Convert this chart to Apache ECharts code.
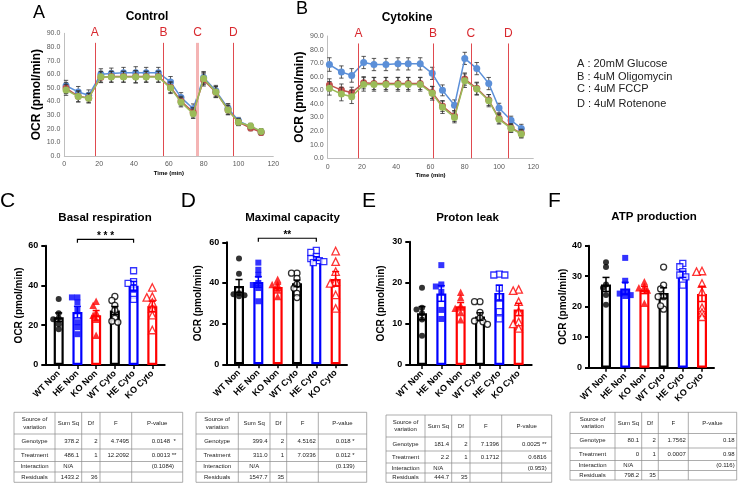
<!DOCTYPE html>
<html><head><meta charset="utf-8">
<script src="https://cdn.jsdelivr.net/npm/echarts/dist/echarts.min.js"></script>
<style>html,body{margin:0;padding:0;background:#fff}#c{width:740px;height:484px}</style>
</head><body><div id="c"></div>
<script>
// ---------------- DATA ----------------
const timeMin = [1,8,14,21,27,34,41,47,54,61,67,74,80,87,94,100,107,113];
const seriesNames = ['WT','HE','KO'];
const ctrlBlue  = [51.5,47,44.5,60,60.5,61,61,61,61,54.3,43,34.7,57.5,47.8,35,25.8,21.5,17.6];
const ctrlRed   = [49.8,43.8,42.6,57.8,58.3,58.3,58.3,58.3,58.3,50.5,40.3,32,55.8,46.8,33.8,24.8,20.5,17.3];
const ctrlGreen = [48.5,43.6,42.4,58.2,58,58,58,58,58,49.8,39.5,31,56.8,47,33.8,24.8,22,18];
const ctrlBlueErr  = [4,4,4,4,4,4,4.5,4,4,4,3.5,3.5,4.5,4,3.5,2.5,2,2];
const ctrlRedErr   = [4,4,3.5,4,4,4,4.5,4,4,4,3.5,3.5,4.5,4,3.5,2.5,2,2];
const ctrlGreenErr = [4,4,3.5,4,4,4,4.5,4,4,4,3.5,3.5,4.5,4,3.5,2.5,2,2];
const cytoBlue  = [69,63.5,61,70.5,69,69,69.5,69.5,69.5,62.5,50,39,73.5,66,55,37,28,22];
const cytoRed   = [54,50.2,48.3,55.6,55.1,55.1,55.1,55.1,55.1,48.5,38.5,31.1,58.3,51.5,42.9,29.4,22.5,18.4];
const cytoGreen = [51.5,47.3,45.3,54.4,54.4,54.4,54.4,54.4,54.4,47.8,37.5,30.1,57.1,51,42.4,28.7,22,17.9];
const cytoBlueErr  = [5,4.5,5,4.5,4.5,4.5,4.5,4.5,4.5,4.5,4,4,4.5,4.5,4.5,3.5,3,3];
const cytoRedErr   = [4.5,4.5,4,4.5,4.5,4.5,4.5,4.5,4.5,4.5,4,4,4.5,4.5,4,3.5,3,3];
const cytoGreenErr = [5,5,5,5,5,5,5,5,5,5,4.5,4,5,4.5,4.5,3.5,3,3];
const ctrlInjections = [17.5,57,76.5,97];
const cytoInjections = [18,61.5,83.5,105.5];
const injectionLabels = ['A','B','C','D'];
const injectionLegend = ['A : 20mM Glucose','B : 4uM Oligomycin','C : 4uM FCCP','D : 4uM Rotenone'];

const groupNames = ['WT Non','HE Non','KO Non','WT Cyto','HE Cyto','KO Cyto'];
const basalMean = [24,26.6,25,27.4,39.8,29.5];
const basalSem  = [2.2,2.9,2.4,2.0,2.2,2.6];
const basalPts  = [[33.2,26,23.5,23,20.5,18],[34,34,31.5,28,21.5,19,15.5],[32,30,26.5,25,23,15],[34.5,32.5,30,27.5,23.5,22,21.5],[47.4,41.9,41.1,38.5,35.2,33],[39,34.4,34,31.5,28.5,25.1,17.6]];
const maxMean = [38.5,40.5,38,39.8,52,42];
const maxSem  = [3.2,2.6,1.5,1.6,0.9,3.6];
const maxPts  = [[52,44.5,35,34.5,34,33.5],[50,46.5,44,40,39,37.5,31],[41.8,39.3,39.3,36.6,33.3],[44.8,44.8,42.3,39.3,37.4,34.9,32.8],[56,55,53,52,51,50.5,50],[55.7,50.5,45.6,40.7,39.8,34.1,27.5]];
const leakMean = [12.6,17.4,14.3,11.8,17.5,13.5];
const leakSem  = [1.6,1.9,0.9,0.9,1.9,1.5];
const leakPts  = [[18.8,13.9,13.5,12.6,11.1,7.1],[24.3,19.6,19.1,17.8,13.4,11.2],[17.7,16.4,14.5,13.8,12.8,11],[15.4,15.4,12.8,11.4,10.7,10.5,9.9],[22.1,21.9,21.9,18.7,16.6,13,11.2],[18.4,18.1,15.4,13,10.5,10,8.9]];
const atpMean = [27.3,26,25.5,24.5,30.6,24.2];
const atpSem  = [2.3,2,1.2,1.7,1,2.5];
const atpPts  = [[33,34.6,27.3,26.2,23.8,20.6],[36,28.5,24.7,24.3,23.8,23.5],[28.2,26.6,26.2,25.5,21.1],[33,27.1,25.8,23.3,23.3,19.2,20.3],[34.2,33.1,31.5,30.4,29.8,27.1],[31.7,31.5,27.6,24.9,19.7,18.1,16.7]];
const basalSig = [1,4,63.2,'* * *'];
const maxSig = [1,4,62,'**'];

const tableHeader = ['Source of\nvariation','Sum Sq','Df','F','P-value'];
const tableBasal = [['Genotype','378.2','2','4.7495','0.0148  *'],['Treatment','486.1','1','12.2092','0.0013 **'],['Interaction','N/A','','','(0.1084)'],['Residuals','1433.2','36','','']];
const tableMax = [['Genotype','399.4','2','4.5162','0.018 *'],['Treatment','311.0','1','7.0336','0.012 *'],['Interaction','N/A','','','(0.139)'],['Residuals','1547.7','35','','']];
const tableLeak = [['Genotype','181.4','2','7.1396','0.0025 **'],['Treatment','2.2','1','0.1712','0.6816'],['Interaction','N/A','','','(0.953)'],['Residuals','444.7','35','','']];
const tableAtp = [['Genotype','80.1','2','1.7562','0.18'],['Treatment','0','1','0.0007','0.98'],['Interaction','N/A','','','(0.116)'],['Residuals','798.2','35','','']];

// ---------------- BUILD ----------------
const FONT = "'Liberation Sans', Arial, sans-serif";
const grids=[], xAxes=[], yAxes=[], series=[], graphics=[];
const BLUE='#5B8FD8', RED='#C0504D', GREEN='#9BBB59';
const groupColors=['#000000','#0000ff','#ff0000','#000000','#0000ff','#ff0000'];
const groupSymbols=['circle','rect','triangle','circle','rect','triangle'];
const groupHollow=[false,false,false,true,true,true];

function txt(x,y,text,font,fill,align,valign){
  graphics.push({type:'text',x:x,y:y,silent:true,style:{text:text,font:font,fill:fill||'#000',textAlign:align||'center',textVerticalAlign:valign||'middle',align:align||'center',verticalAlign:valign||'middle'}});
}

function errRender(params, api){
  const x=api.value(0), y=api.value(1), e=api.value(2);
  const t=api.coord([x,y+e]), b=api.coord([x,y-e]);
  const w=2.2, st={stroke:'#303030',lineWidth:0.8};
  return {type:'group',children:[
    {type:'line',shape:{x1:t[0],y1:t[1],x2:b[0],y2:b[1]},style:st},
    {type:'line',shape:{x1:t[0]-w,y1:t[1],x2:t[0]+w,y2:t[1]},style:st},
    {type:'line',shape:{x1:b[0]-w,y1:b[1],x2:b[0]+w,y2:b[1]},style:st}
  ]};
}

function seahorse(L, lines, inj, markTop, cColor){
  const gi=grids.length;
  grids.push({left:L.left,top:L.top,width:L.width,height:L.height});
  xAxes.push({type:'value',gridIndex:gi,min:0,max:120,interval:20,
    axisLine:{show:true,onZero:false,lineStyle:{color:'#bfbfbf',width:1}},axisTick:{show:false},splitLine:{show:false},
    axisLabel:{fontSize:7,color:'#595959',margin:5,fontFamily:FONT},
    name:'Time (min)',nameLocation:'middle',nameGap:L.xNameGap,nameTextStyle:{fontSize:6,fontWeight:'bold',color:'#000',fontFamily:FONT}});
  yAxes.push({type:'value',gridIndex:gi,min:0,max:90,interval:10,
    axisLine:{show:true,lineStyle:{color:'#bfbfbf',width:1}},axisTick:{show:false},splitLine:{show:false},
    axisLabel:{fontSize:7,color:'#595959',margin:4,fontFamily:FONT,formatter:v=>v.toFixed(1)},
    name:'OCR (pmol/min)',nameLocation:'middle',nameGap:L.yNameGap,nameTextStyle:{fontSize:12,fontWeight:'bold',color:'#000',fontFamily:FONT}});
  lines.forEach((ln,k)=>{
    series.push({type:'custom',xAxisIndex:gi,yAxisIndex:gi,z:2+k*2,silent:true,
      data:timeMin.map((t,i)=>[t,ln.vals[i],ln.err[i]]),renderItem:errRender});
    const s={type:'line',name:ln.name,xAxisIndex:gi,yAxisIndex:gi,z:3+k*2,silent:true,
      data:timeMin.map((t,i)=>[t,ln.vals[i]]),symbol:'circle',symbolSize:7,showSymbol:true,
      itemStyle:{color:ln.color},lineStyle:{color:ln.color,width:1.5}};
    if(k===0){
      s.markLine={silent:true,symbol:['none','none'],animation:false,
        data:inj.map((x,j)=>[
          {coord:[x,0],lineStyle:{color:(j===2?cColor.c:'#e04a4f'),width:(j===2?cColor.w:1),type:'solid'},
           label:{show:true,position:'end',formatter:injectionLabels[j],color:'#d8282e',fontSize:12,distance:4,fontFamily:FONT}},
          {coord:[x,markTop]}])};
    }
    series.push(s);
  });
}

seahorse({left:64.3,top:33.3,width:209,height:122.7,xNameGap:14,yNameGap:18},
  [{name:'WT',vals:ctrlBlue,err:ctrlBlueErr,color:BLUE},{name:'HE',vals:ctrlRed,err:ctrlRedErr,color:RED},{name:'KO',vals:ctrlGreen,err:ctrlGreenErr,color:GREEN}],
  ctrlInjections,83,{c:'#f4b4b4',w:3});
seahorse({left:327.7,top:36,width:205.6,height:122.3,xNameGap:14,yNameGap:18.5},
  [{name:'WT',vals:cytoBlue,err:cytoBlueErr,color:BLUE},{name:'HE',vals:cytoRed,err:cytoRedErr,color:RED},{name:'KO',vals:cytoGreen,err:cytoGreenErr,color:GREEN}],
  cytoInjections,84.5,{c:'#e04a4f',w:1});

function jitter(vals, ppu, size){
  const placed=[], offs=[];
  const cand=[0,-3,3,-5.5,5.5,-7.5,7.5];
  vals.forEach(v=>{
    const y=v*ppu; let ch=0;
    for(const c of cand){ if(placed.every(q=>Math.hypot(q.x-c,q.y-y)>=size)){ch=c;break;} }
    placed.push({x:ch,y:y}); offs.push(ch);
  });
  return offs;
}

function barPanel(L, means, sems, pts, sig){
  const h=L.bottom-L.top;
  const gf=grids.length;
  grids.push({left:L.fL,top:L.top,width:L.fR-L.fL,height:h});
  xAxes.push({type:'value',gridIndex:gf,min:0,max:1,axisLine:{show:true,onZero:false,lineStyle:{color:'#000',width:2}},
    axisTick:{show:false},axisLabel:{show:false},splitLine:{show:false}});
  yAxes.push({type:'value',gridIndex:gf,min:0,max:L.yMax,interval:L.yInt,
    axisLine:{show:true,lineStyle:{color:'#000',width:2}},axisTick:{show:true,length:4,lineStyle:{color:'#000',width:2}},
    axisLabel:{fontSize:9,fontWeight:'bold',color:'#000',margin:7,fontFamily:FONT},splitLine:{show:false},
    name:'OCR (pmol/min)',nameLocation:'middle',nameGap:L.nameGap,nameTextStyle:{fontSize:10,fontWeight:'bold',color:'#000',fontFamily:FONT}});
  const gd=grids.length;
  grids.push({left:L.c0-L.cw/2,top:L.top,width:L.cw*6,height:h});
  xAxes.push({type:'category',gridIndex:gd,data:groupNames,boundaryGap:true,axisLine:{show:false},
    axisTick:{show:true,alignWithLabel:true,length:4,lineStyle:{color:'#000',width:1.5}},
    axisLabel:{interval:0,rotate:45,fontSize:9,fontWeight:'bold',color:'#000',margin:7,fontFamily:FONT}});
  yAxes.push({type:'value',gridIndex:gd,min:0,max:L.yMax,show:false});
  series.push({type:'bar',xAxisIndex:gd,yAxisIndex:gd,barWidth:10,z:2,silent:true,
    data:means.map((m,i)=>({value:m,itemStyle:{color:'rgba(255,255,255,0)',borderColor:groupColors[i],borderWidth:2.2}}))});
  const ppu=h/L.yMax;
  const sd=[];
  pts.forEach((arr,i)=>{
    const offs=jitter(arr,ppu,4.2);
    arr.forEach((v,j)=>{
      sd.push({value:[i,v],symbol:groupSymbols[i],symbolSize:groupSymbols[i]==='triangle'?7.5:6,symbolOffset:[offs[j],0],
        itemStyle:groupHollow[i]?{color:'#fff',borderColor:groupColors[i],borderWidth:1.3}:{color:groupColors[i],borderWidth:0}});
    });
  });
  series.push({type:'scatter',xAxisIndex:gd,yAxisIndex:gd,z:3,silent:true,data:sd});
  series.push({type:'custom',xAxisIndex:gd,yAxisIndex:gd,z:4,silent:true,
    data:means.map((m,i)=>[i,m,sems[i]]),
    renderItem:function(params,api){
      const i=api.value(0),m=api.value(1),e=api.value(2);
      const t=api.coord([i,m+e]),b=api.coord([i,m-e]);
      const col=groupColors[params.dataIndex], w=3.5, st={stroke:col,lineWidth:1.5};
      return {type:'group',children:[
        {type:'line',shape:{x1:t[0],y1:t[1],x2:b[0],y2:b[1]},style:st},
        {type:'line',shape:{x1:t[0]-w,y1:t[1],x2:t[0]+w,y2:t[1]},style:st},
        {type:'line',shape:{x1:b[0]-w,y1:b[1],x2:b[0]+w,y2:b[1]},style:st}]};
    }});
  if(sig){
    series.push({type:'custom',xAxisIndex:gd,yAxisIndex:gd,z:5,silent:true,clip:false,
      data:[sig],
      renderItem:function(params,api){
        const p1=api.coord([api.value(0),api.value(2)]), p2=api.coord([api.value(1),api.value(2)]);
        return {type:'group',children:[
          {type:'polyline',shape:{points:[[p1[0],p1[1]+3.5],[p1[0],p1[1]],[p2[0],p2[1]],[p2[0],p2[1]+3.5]]},style:{stroke:'#000',lineWidth:1.2,fill:null}},
          {type:'text',x:(p1[0]+p2[0])/2,y:p1[1]+2,style:{text:sig[3],font:'bold 10px '+FONT,fill:'#000',textAlign:'center',textVerticalAlign:'bottom',align:'center',verticalAlign:'bottom'}}]};
      }});
  }
}

barPanel({fL:45.3,fR:164.7,top:245.7,bottom:365,c0:58.7,cw:18.72,yMax:60,yInt:20,nameGap:21},basalMean,basalSem,basalPts,basalSig);
barPanel({fL:226.3,fR:347,top:242.3,bottom:364.3,c0:239,cw:19.33,yMax:60,yInt:20,nameGap:23},maxMean,maxSem,maxPts,maxSig);
barPanel({fL:409.3,fR:531.7,top:241.7,bottom:365,c0:422,cw:19.33,yMax:30,yInt:10,nameGap:23},leakMean,leakSem,leakPts,null);
barPanel({fL:589,fR:714,top:245.7,bottom:367.7,c0:606,cw:19.2,yMax:40,yInt:10,nameGap:19},atpMean,atpSem,atpPts,null);

// texts
txt(39,13.5,'A','18px '+FONT);
txt(302,9,'B','18px '+FONT);
txt(147,16.5,'Control','bold 12px '+FONT);
txt(407,18,'Cytokine','bold 12px '+FONT);
const legendY=[64,76.7,89,104];
injectionLegend.forEach((s,i)=>txt(577,legendY[i],s,'11px '+FONT,'#222','left'));
txt(7.5,200.8,'C','21px '+FONT);
txt(188.3,201.7,'D','21px '+FONT);
txt(369,201.7,'E','21px '+FONT);
txt(554.5,201.7,'F','21px '+FONT);
txt(105,217.7,'Basal respiration','bold 11.5px '+FONT);
txt(292.5,217.7,'Maximal capacity','bold 11.5px '+FONT);
txt(467.5,217.7,'Proton leak','bold 11.5px '+FONT);
txt(654,217.3,'ATP production','bold 11.5px '+FONT);

function addTable(rows, L){
  const xs=L.xs, ys=L.ys, st={stroke:'#8a8a8a',lineWidth:0.7};
  graphics.push({type:'rect',silent:true,shape:{x:xs[0],y:ys[0],width:xs[5]-xs[0],height:ys[5]-ys[0]},style:{fill:null,stroke:'#8a8a8a',lineWidth:0.7}});
  for(let i=1;i<5;i++) graphics.push({type:'line',silent:true,shape:{x1:xs[i],y1:ys[0],x2:xs[i],y2:ys[5]},style:st});
  for(let j=1;j<5;j++) graphics.push({type:'line',silent:true,shape:{x1:xs[0],y1:ys[j],x2:xs[5],y2:ys[j]},style:st});
  const f='6px '+FONT;
  tableHeader.forEach((hd,i)=>{
    graphics.push({type:'text',silent:true,x:(xs[i]+xs[i+1])/2,y:(ys[0]+ys[1])/2,style:{text:hd,font:f,fill:'#222',lineHeight:7.5,textAlign:'center',textVerticalAlign:'middle',align:'center',verticalAlign:'middle'}});
  });
  rows.forEach((r,j)=>{
    const cy=(ys[j+1]+ys[j+2])/2;
    r.forEach((c,i)=>{
      if(!c) return;
      let x, a;
      if(i===0 || c==='N/A'){x=(xs[i]+xs[i+1])/2;a='center';}
      else if(i===4 && L.pLeft){x=xs[4]+L.pLeft;a='left';}
      else {x=xs[i+1]-(i===4?L.pPad:2.5);a='right';}
      txt(x,cy,c,f,'#222',a);
    });
  });
}
addTable(tableBasal,{xs:[14,55,81.7,100,131.7,182.7],ys:[412.3,434,449,461.5,472,482.3],pLeft:20});
addTable(tableMax,{xs:[196,238.3,270,286.7,318.3,366.7],ys:[412.3,434,449,461.5,472,482.3],pPad:12});
addTable(tableLeak,{xs:[386,425,451.7,470,501.7,551.7],ys:[415,437,451,463,473,482.3],pPad:5});
addTable(tableAtp,{xs:[570,615,641.7,658.3,688.3,736.7],ys:[412.3,433.5,448,460.5,470.5,480],pPad:2});

const chart=echarts.init(document.getElementById('c'),null,{renderer:'canvas',width:740,height:484});
chart.setOption({animation:false,backgroundColor:'#fff',textStyle:{fontFamily:FONT},
  grid:grids,xAxis:xAxes,yAxis:yAxes,series:series,graphic:{elements:graphics}});
</script></body></html>
